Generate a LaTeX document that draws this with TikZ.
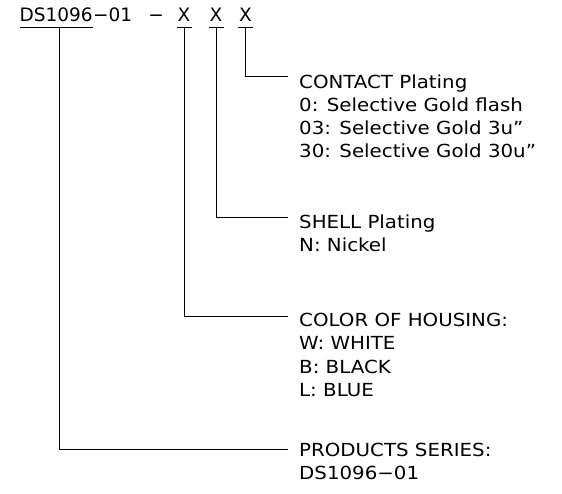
\documentclass[tikz,border=0pt]{standalone}
\usepackage{fontspec}
\setmainfont{DejaVu Sans}
\newfontfamily\cadwide{DejaVu Sans}[FakeStretch=1.1]
\tikzset{
  wire/.style={line width=1pt, draw=black},
  ttl/.style={anchor=base west, inner sep=0pt, font=\fontsize{18.5}{22}\selectfont},
  ttlc/.style={anchor=base, inner sep=0pt, font=\fontsize{18.5}{22}\selectfont},
  lbl/.style={anchor=base west, inner sep=0pt, align=left, font=\cadwide\fontsize{18}{23.3}\selectfont},
}
\begin{document}
\begin{tikzpicture}[x=1pt,y=-1pt]
\useasboundingbox (0,0) rectangle (562,493);
\fill[white] (0,0) rectangle (562,493);
% title
\node[ttl] (ds) at (19.5,21) {DS1096};
\node[ttl] (sfx) at (ds.base east) {−01};
\node[ttlc] (sep) at (156,21) {−};
\node[ttlc] (x1) at (184,21) {X};
\node[ttlc] (x2) at (216,21) {X};
\node[ttlc] (x3) at (245.5,21) {X};
% underlines
\draw[wire] (20,27) -- (93,27);
\draw[wire] (176.5,27) -- (191.5,27);
\draw[wire] (208.5,27) -- (223.5,27);
\draw[wire] (238,27) -- (253,27);
% connector points
\coordinate (d0) at (59,27);
\coordinate (d1) at (184,27);
\coordinate (d2) at (216,27);
\coordinate (d3) at (245.5,27);
\coordinate (e3) at (288,76);
\coordinate (e2) at (288,217);
\coordinate (e1) at (288,316);
\coordinate (e0) at (288,449);
% labels (base anchor = baseline of the last line)
\node[lbl] (contact) at (299,157.9) {CONTACT Plating\\0: Selective Gold flash\\03: Selective Gold 3u”\\30: Selective Gold 30u”};
\node[lbl] (shell) at (299,251.3) {SHELL Plating\\N: Nickel};
\node[lbl] (color) at (299,396.4) {COLOR OF HOUSING:\\W: WHITE\\B: BLACK\\L: BLUE};
\node[lbl] (prod) at (299,479.3) {PRODUCTS SERIES:\\DS1096−01};
% connectors
\draw[wire] (d3) |- (e3);
\draw[wire] (d2) |- (e2);
\draw[wire] (d1) |- (e1);
\draw[wire] (d0) |- (e0);
\end{tikzpicture}
\end{document}
